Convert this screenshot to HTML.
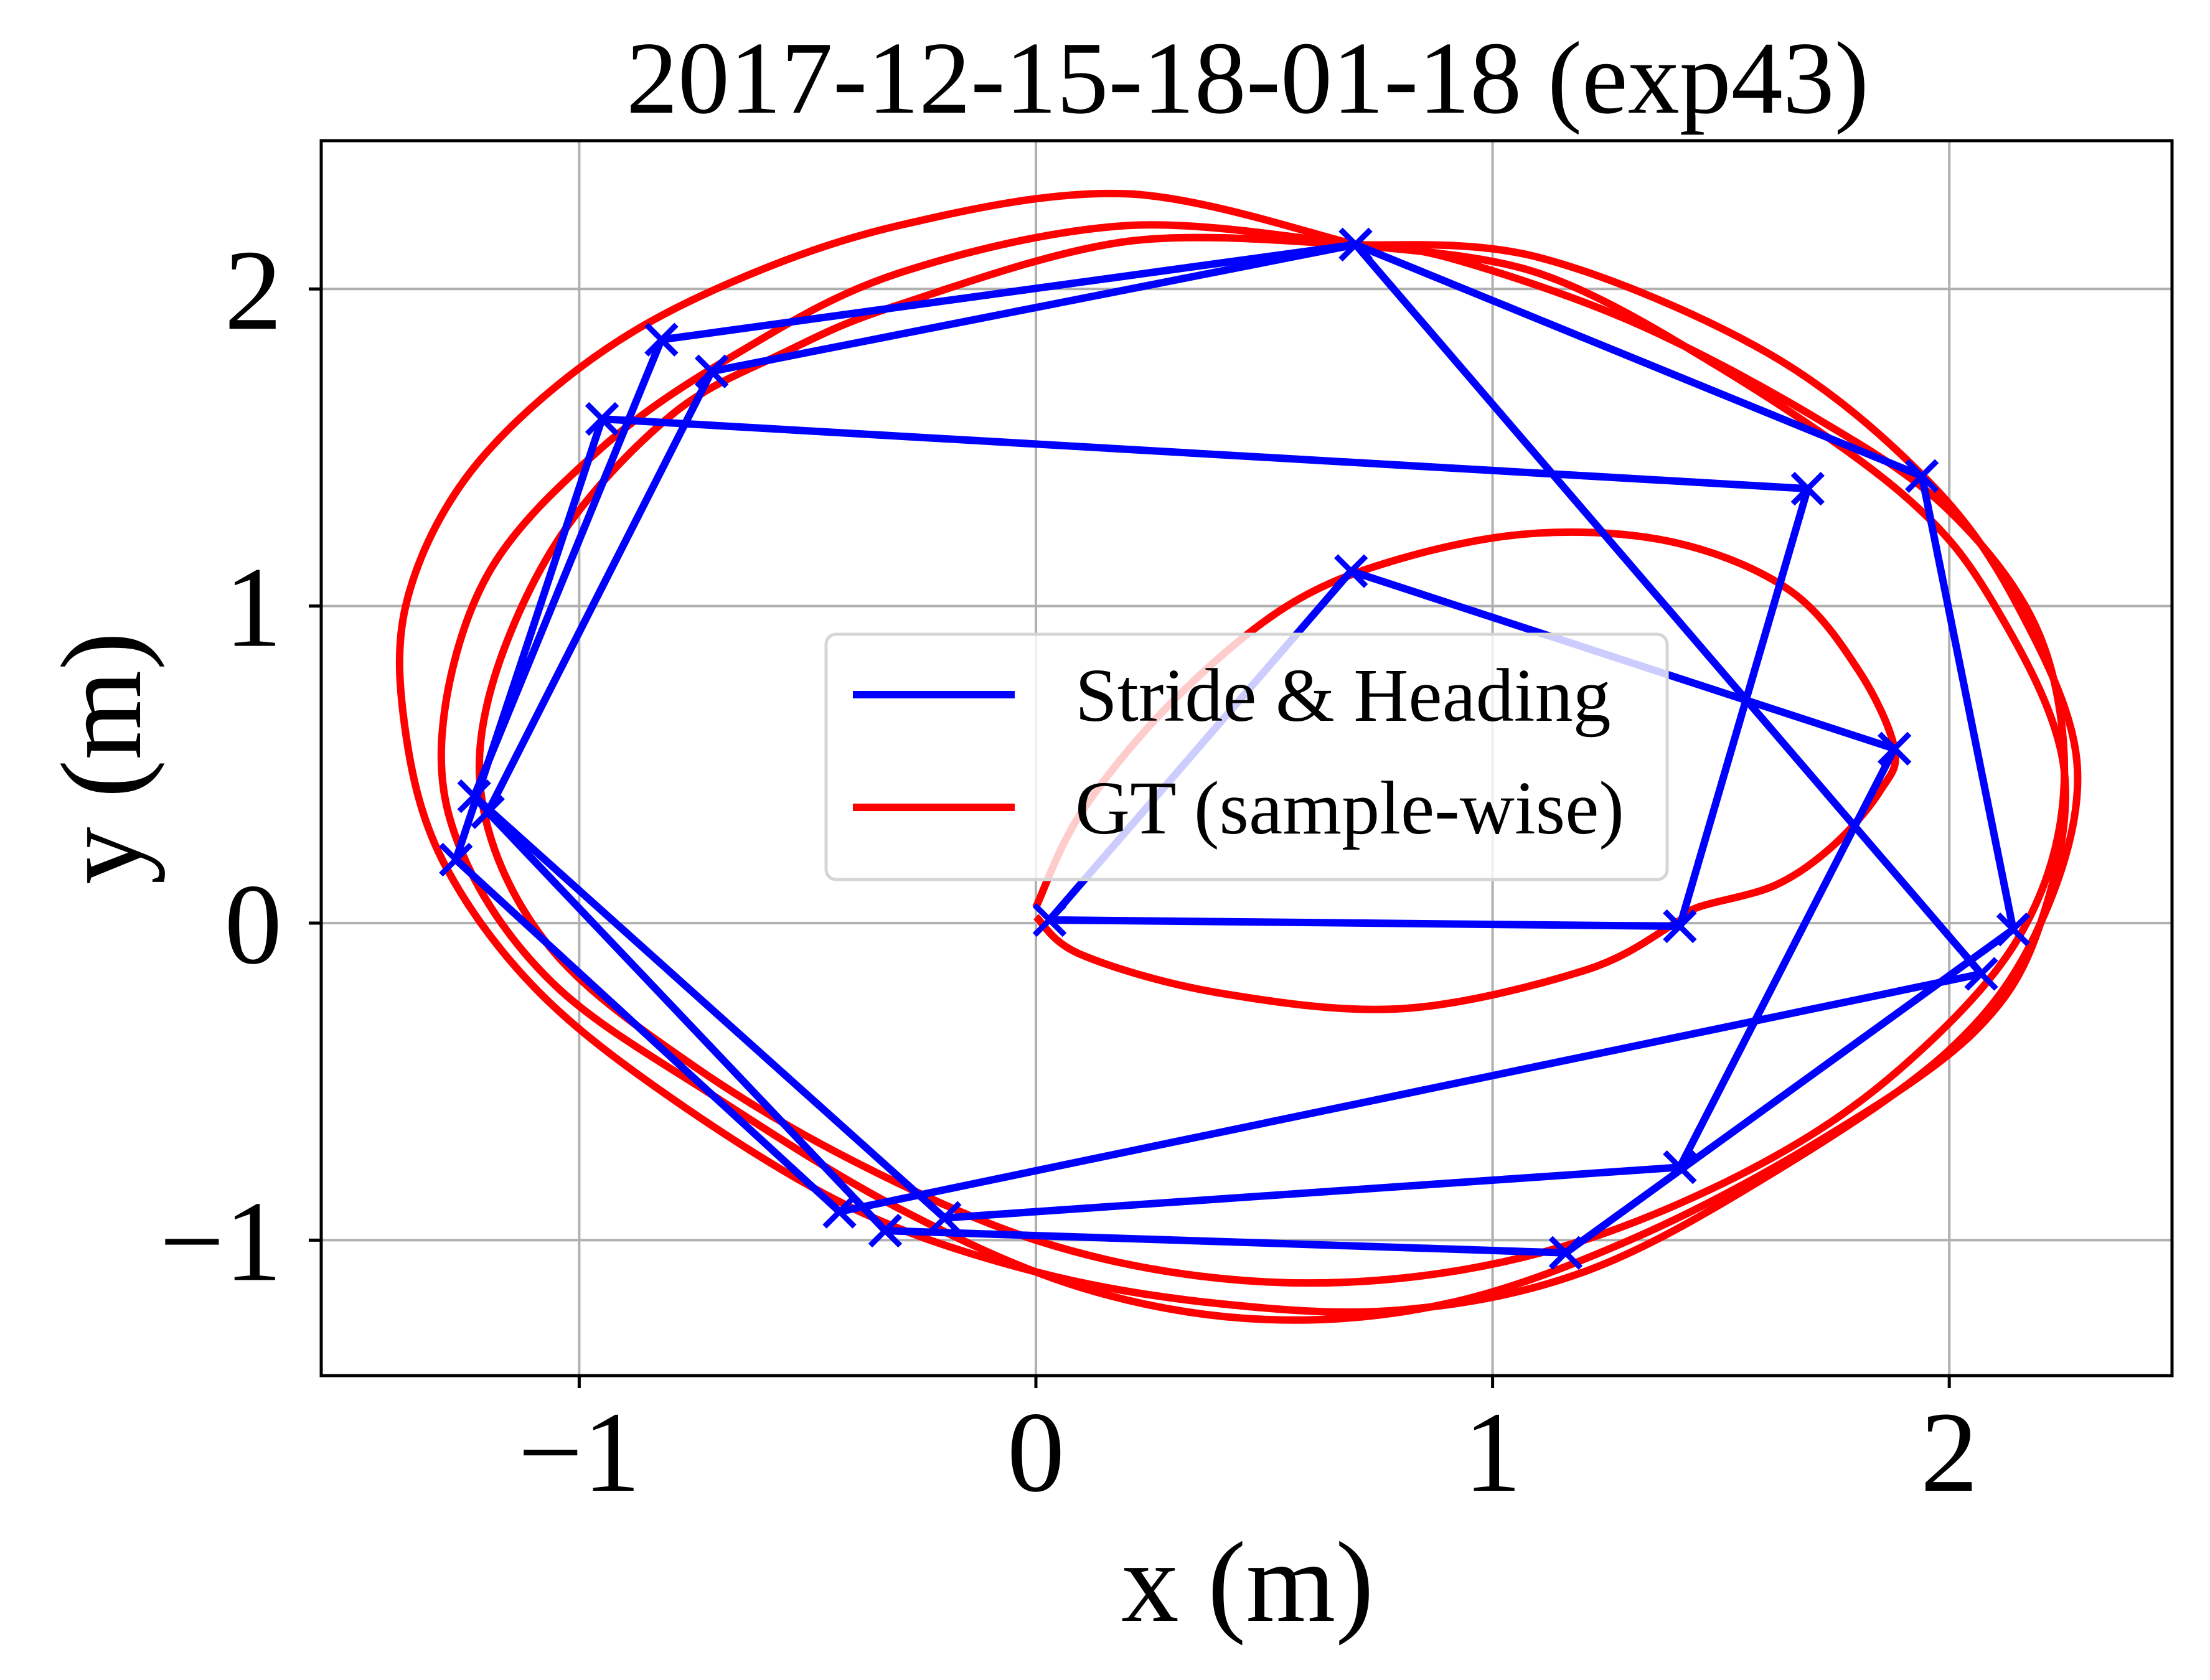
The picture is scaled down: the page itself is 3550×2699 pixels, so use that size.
<!DOCTYPE html>
<html><head><meta charset="utf-8">
<style>
html,body{margin:0;padding:0;background:#fff;}
svg{display:block;font-family:"Liberation Serif","DejaVu Serif",serif;}
</style></head>
<body>
<svg id="chart" width="3550" height="2699" viewBox="0 0 3550 2699" xmlns="http://www.w3.org/2000/svg">
<rect width="3550" height="2699" fill="#fff"/>
<g id="grid"></g>
<g id="plot"></g>
<g id="axes"></g>
<text x="2004" y="181" font-size="166" text-anchor="middle">2017-12-15-18-01-18 (exp43)</text>
<text x="2004" y="2604" font-size="185" text-anchor="middle">x (m)</text>
<text x="0" y="0" font-size="185" text-anchor="middle" transform="translate(225,1218) rotate(-90)">y (m)</text>
<g>
<rect x="1327" y="1019" width="1351" height="394" rx="16" fill="#fff" fill-opacity="0.8" stroke="#d5d5d5" stroke-width="5"/>
<line x1="1370" y1="1116" x2="1630" y2="1116" stroke="#0000ff" stroke-width="12"/>
<text x="1727" y="1158" font-size="122">Stride &amp; Heading</text>
<line x1="1370" y1="1297" x2="1630" y2="1297" stroke="#ff0000" stroke-width="12"/>
<text x="1727" y="1339" font-size="122">GT (sample-wise)</text>
</g>
</svg>
<script>
const xTicks=[-1,0,1,2];
const yTicks=[-1,0,1,2];
const xTickLabels=["\u22121","0","1","2"];
const yTickLabels=["\u22121","0","1","2"];
const blueAx=[0.03,1.41,1.69,-0.95,-1.27,-0.43,2.07,0.70,-0.82,-1.23,-0.20,1.41,1.88,0.69,0.03];
const blueAy=[0.01,-0.01,1.37,1.59,0.20,-0.91,-0.16,2.14,1.84,0.40,-0.93,-0.77,0.55,1.11,0.01];
const blueBx=[-1.20,-0.71,0.70,1.94,2.14,1.16,-0.33,-1.20];
const blueBy=[0.35,1.74,2.14,1.41,-0.02,-1.04,-0.97,0.35];
const gtInnerX=[0.0,0.1,0.3,0.55,0.8,1.1,1.4,1.65,1.8,1.88,1.85,1.75,1.62,1.45,1.4,1.2,0.8,0.4,0.1,0.0];
const gtInnerY=[0.05,0.35,0.7,1.0,1.15,1.23,1.2,1.05,0.8,0.55,0.42,0.25,0.12,0.05,0.0,-0.15,-0.27,-0.22,-0.1,0.02];
const gtAx=[0.7,0.2,-0.3,-0.7,-1.0,-1.25,-1.38,-1.38,-1.3,-1.1,-0.8,-0.4,0.0,0.4,0.8,1.2,1.6,2.0,2.2,2.28,2.15,1.95,1.6,1.1,0.7];
const gtAy=[2.14,2.3,2.2,2.0,1.75,1.4,1.0,0.6,0.2,-0.2,-0.55,-0.9,-1.1,-1.2,-1.22,-1.1,-0.8,-0.4,0.0,0.5,1.0,1.4,1.8,2.1,2.14];
const gtBx=[0.7,0.2,-0.3,-0.65,-0.95,-1.2,-1.3,-1.25,-1.05,-0.7,-0.3,0.1,0.5,0.9,1.3,1.7,2.05,2.2,2.25,2.1,1.9,1.5,1.1,0.7];
const gtBy=[2.14,2.2,2.05,1.8,1.5,1.1,0.6,0.2,-0.2,-0.55,-0.9,-1.15,-1.25,-1.2,-1.0,-0.7,-0.35,0.0,0.5,1.0,1.35,1.75,2.05,2.14];
const gtCx=[0.7,0.2,-0.3,-0.55,-0.8,-1.05,-1.2,-1.2,-1.05,-0.75,-0.4,0.0,0.4,0.8,1.2,1.6,1.9,2.15,2.25,2.2,2.0,1.7,1.3,0.9,0.7];
const gtCy=[2.14,2.15,1.95,1.8,1.6,1.2,0.7,0.3,-0.1,-0.45,-0.75,-1.0,-1.12,-1.12,-1.0,-0.75,-0.45,-0.05,0.4,0.9,1.3,1.6,1.9,2.1,2.14];

const L=516,R=3489,T=226,B=2210;
const X=v=>1664+v*733.6;
const Y=v=>1483-v*509.4;
const NS="http://www.w3.org/2000/svg";
function mk(tag,attrs,parent){const e=document.createElementNS(NS,tag);for(const k in attrs)e.setAttribute(k,attrs[k]);parent.appendChild(e);return e;}
const grid=document.getElementById('grid'),plot=document.getElementById('plot'),axes=document.getElementById('axes');
const defs=mk('defs',{},plot);
const cp=mk('clipPath',{id:'clip'},defs);
mk('rect',{x:L,y:T,width:R-L,height:B-T},cp);
xTicks.forEach((t,i)=>{
  const g=mk('line',{x1:X(t),x2:X(t),y1:T,y2:B,stroke:'#b0b0b0','stroke-width':4},grid);
  
  
  const tk=mk('line',{x1:X(t),x2:X(t),y1:B,y2:B+20,stroke:'#000','stroke-width':5},axes);
  
  
  const lb=mk('text',{x:X(t),y:2395,'font-size':185,'text-anchor':'middle'},axes);
  lb.textContent=xTickLabels[i];
  
  
});
yTicks.forEach((t,i)=>{
  const g=mk('line',{x1:L,x2:R,y1:Y(t),y2:Y(t),stroke:'#b0b0b0','stroke-width':4},grid);
  
  
  const tk=mk('line',{x1:L-20,x2:L,y1:Y(t),y2:Y(t),stroke:'#000','stroke-width':5},axes);
  
  
  const lb=mk('text',{x:453,y:Y(t)+64,'font-size':185,'text-anchor':'end'},axes);
  lb.textContent=yTickLabels[i];
  
  
});
const frame=mk('rect',{x:L,y:T,width:R-L,height:B-T,fill:'none',stroke:'#000','stroke-width':5},axes);



function smooth(xs,ys){
  const p=xs.map((x,i)=>[X(x),Y(ys[i])]);
  let d='M'+p[0][0]+','+p[0][1];
  for(let i=0;i<p.length-1;i++){
    const p0=p[Math.max(0,i-1)],p1=p[i],p2=p[i+1],p3=p[Math.min(p.length-1,i+2)];
    const c1=[p1[0]+(p2[0]-p0[0])/6,p1[1]+(p2[1]-p0[1])/6];
    const c2=[p2[0]-(p3[0]-p1[0])/6,p2[1]-(p3[1]-p1[1])/6];
    d+=`C${c1[0]},${c1[1]} ${c2[0]},${c2[1]} ${p2[0]},${p2[1]}`;
  }
  return d;
}
const pg=mk('g',{'clip-path':'url(#clip)'},plot);
function blue(xs,ys,name){
  const pts=xs.map((x,i)=>X(x)+','+Y(ys[i])).join(' ');
  const l=mk('polyline',{points:pts,fill:'none',stroke:'#0000ff','stroke-width':12,'stroke-linejoin':'round'},pg);
  
  
  xs.forEach((x,i)=>{
    const cx=X(x),cy=Y(ys[i]),s=24;
    const m=mk('path',{d:`M${cx-s},${cy-s}L${cx+s},${cy+s}M${cx-s},${cy+s}L${cx+s},${cy-s}`,stroke:'#0000ff','stroke-width':9,fill:'none'},pg);
    
    
  });
}
function red(xs,ys,name){
  const l=mk('path',{d:smooth(xs,ys),fill:'none',stroke:'#ff0000','stroke-width':12,'stroke-linejoin':'round'},pg);
  
  
}
red(gtInnerX,gtInnerY,'gt-inner-loop');
red(gtAx,gtAy,'gt-loop-a');
red(gtBx,gtBy,'gt-loop-b');
red(gtCx,gtCy,'gt-loop-c');
blue(blueAx,blueAy,'stride-heading-path-a');
blue(blueBx,blueBy,'stride-heading-path-b');
</script>
</body></html>
